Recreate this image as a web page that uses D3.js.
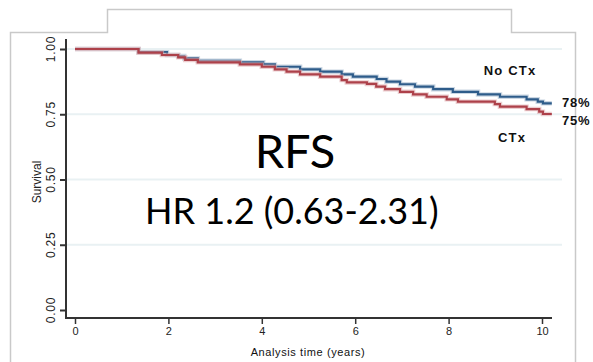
<!DOCTYPE html>
<html>
<head>
<meta charset="utf-8">
<script src="https://cdn.jsdelivr.net/npm/d3@7"></script>
<style>
  html, body { margin: 0; padding: 0; background: #fff; }
  svg { display: block; }
</style>
</head>
<body>
<svg id="chart" width="593" height="362"></svg>
<script>
// ---- data ----
const xTicks = [0, 2, 4, 6, 8, 10];
const yTicks = [0, 0.25, 0.5, 0.75, 1];
const yTickLabels = ["0.00", "0.25", "0.50", "0.75", "1.00"];
const gridValues = [0.25, 0.5, 0.75, 1];

// No CTx (blue) step points: [time, survival]
const noCtxTime = [0, 1.36, 1.97, 2.21, 2.34, 2.63, 3.53, 4.03, 4.28, 4.82, 5.25, 5.71, 5.95, 6.46, 6.67, 6.96, 7.28, 7.67, 8.09, 8.63, 9.10, 9.67, 9.91, 10.02, 10.21];
const noCtxSurv = [1.0, 0.988, 0.977, 0.973, 0.964, 0.955, 0.949, 0.941, 0.932, 0.922, 0.913, 0.903, 0.894, 0.885, 0.875, 0.865, 0.856, 0.846, 0.836, 0.826, 0.817, 0.807, 0.798, 0.792, 0.792];
// CTx (red) step points
const ctxTime = [0, 1.36, 1.86, 2.21, 2.36, 2.63, 3.53, 4.0, 4.28, 4.53, 4.82, 5.25, 5.71, 5.82, 6.25, 6.45, 6.64, 6.96, 7.24, 7.53, 7.96, 8.2, 8.99, 9.1, 9.67, 9.94, 10.02, 10.21];
const ctxSurv = [1.0, 0.986, 0.977, 0.968, 0.958, 0.949, 0.941, 0.932, 0.922, 0.913, 0.903, 0.894, 0.881, 0.872, 0.866, 0.856, 0.846, 0.836, 0.826, 0.817, 0.807, 0.798, 0.789, 0.779, 0.770, 0.760, 0.751, 0.751];

const seriesNames = ["No CTx", "CTx"];
const endLabels = ["78%", "75%"];
const titleText = "RFS";
const hrText = "HR 1.2 (0.63-2.31)";
const xTitle = "Analysis time (years)";
const yTitle = "Survival";

// ---- drawing ----
const svg = d3.select("#chart");
const x = d3.scaleLinear().domain([0, 10]).range([75, 542]);
const y = d3.scaleLinear().domain([0, 1]).range([310, 49]);

// outer frame
svg.append("path")
  .attr("d", "M10.5,362 V32.5 H107.5 V9.5 H511.5 V32.5 H575.5 V362")
  .attr("fill", "none").attr("stroke", "#c9c9c9").attr("stroke-width", 1.5);

// gridlines
svg.append("g").selectAll("line").data(gridValues).join("line")
  .attr("x1", 67).attr("x2", 562)
  .attr("y1", d => y(d)).attr("y2", d => y(d))
  .attr("stroke", "#e9f1f3").attr("stroke-width", 2);

// y axis
const yAxis = svg.append("g").attr("transform", "translate(66,0)")
  .call(d3.axisLeft(y).tickValues(yTicks).tickSize(6).tickFormat(""));
yAxis.select(".domain").remove();
yAxis.selectAll(".tick line").attr("stroke", "#333").attr("stroke-width", 2);
svg.append("line").attr("x1", 66).attr("x2", 66).attr("y1", 39).attr("y2", 319)
  .attr("stroke", "#333").attr("stroke-width", 2);

// y tick labels (rotated)
svg.append("g").selectAll("text").data(yTicks).join("text")
  .attr("transform", (d) => `translate(55,${y(d)}) rotate(-90)`)
  .attr("text-anchor", "middle")
  .attr("font-family", "Liberation Sans, Arial, sans-serif")
  .attr("font-size", 12).attr("letter-spacing", 0.8)
  .attr("fill", "#222")
  .text((d, i) => yTickLabels[i]);

// y title
svg.append("text")
  .attr("transform", "translate(41,182) rotate(-90)")
  .attr("text-anchor", "middle")
  .attr("font-family", "Liberation Sans, Arial, sans-serif")
  .attr("font-size", 12)
  .attr("fill", "#222")
  .text(yTitle);

// x axis
const xAxis = svg.append("g").attr("transform", "translate(0,318)")
  .call(d3.axisBottom(x).tickValues(xTicks).tickSize(6).tickFormat(d => d));
xAxis.select(".domain").remove();
xAxis.selectAll(".tick line").attr("stroke", "#333").attr("stroke-width", 1.5);
xAxis.selectAll(".tick text")
  .attr("y", 9).attr("dy", "0.71em")
  .attr("font-family", "Liberation Sans, Arial, sans-serif")
  .attr("font-size", 11).attr("fill", "#222");
svg.append("line").attr("x1", 65).attr("x2", 552).attr("y1", 318).attr("y2", 318)
  .attr("stroke", "#333").attr("stroke-width", 2);

svg.append("text")
  .attr("x", 308).attr("y", 356)
  .attr("text-anchor", "middle")
  .attr("font-family", "Liberation Sans, Arial, sans-serif")
  .attr("font-size", 11).attr("letter-spacing", 0.6)
  .attr("fill", "#111")
  .text(xTitle);

// curves
const line = d3.line().x(d => x(d[0])).y(d => y(d[1])).curve(d3.curveStepAfter);
const blue = noCtxTime.map((t, i) => [t, noCtxSurv[i]]);
const red = ctxTime.map((t, i) => [t, ctxSurv[i]]);

function drawCurve(data, halo, core) {
  svg.append("path").attr("d", line(data)).attr("fill", "none")
    .attr("stroke", halo).attr("stroke-width", 4.5).attr("stroke-opacity", 0.6);
  svg.append("path").attr("d", line(data)).attr("fill", "none")
    .attr("stroke", core).attr("stroke-width", 2.2);
}
drawCurve(blue, "#a9bdd1", "#2e5c8a");
drawCurve(red, "#e0aeb1", "#ad414a");

// annotations
const annFont = "Liberation Sans, Arial, sans-serif";
svg.append("text").attr("x", 510).attr("y", 75).attr("text-anchor", "middle")
  .attr("font-family", annFont).attr("font-size", 13).attr("font-weight", "bold")
  .attr("letter-spacing", 1.2).attr("fill", "#111").text(seriesNames[0]);
svg.append("text").attr("x", 512).attr("y", 142).attr("text-anchor", "middle")
  .attr("font-family", annFont).attr("font-size", 13).attr("font-weight", "bold")
  .attr("letter-spacing", 1.2).attr("fill", "#111").text(seriesNames[1]);
svg.append("text").attr("x", 562).attr("y", 107)
  .attr("font-family", annFont).attr("font-size", 13).attr("font-weight", "bold")
  .attr("letter-spacing", 0.8).attr("fill", "#111").text(endLabels[0]);
svg.append("text").attr("x", 562).attr("y", 125)
  .attr("font-family", annFont).attr("font-size", 13).attr("font-weight", "bold")
  .attr("letter-spacing", 0.8).attr("fill", "#111").text(endLabels[1]);

// big overlay text
svg.append("text").attr("x", 295).attr("y", 168).attr("text-anchor", "middle")
  .attr("font-family", "Lato, 'Open Sans', sans-serif").attr("font-size", 47)
  .attr("fill", "#000").text(titleText);
svg.append("text").attr("x", 145).attr("y", 224)
  .attr("font-family", "Lato, 'Open Sans', sans-serif").attr("font-size", 36)
  .attr("fill", "#000").text(hrText);
</script>
</body>
</html>
